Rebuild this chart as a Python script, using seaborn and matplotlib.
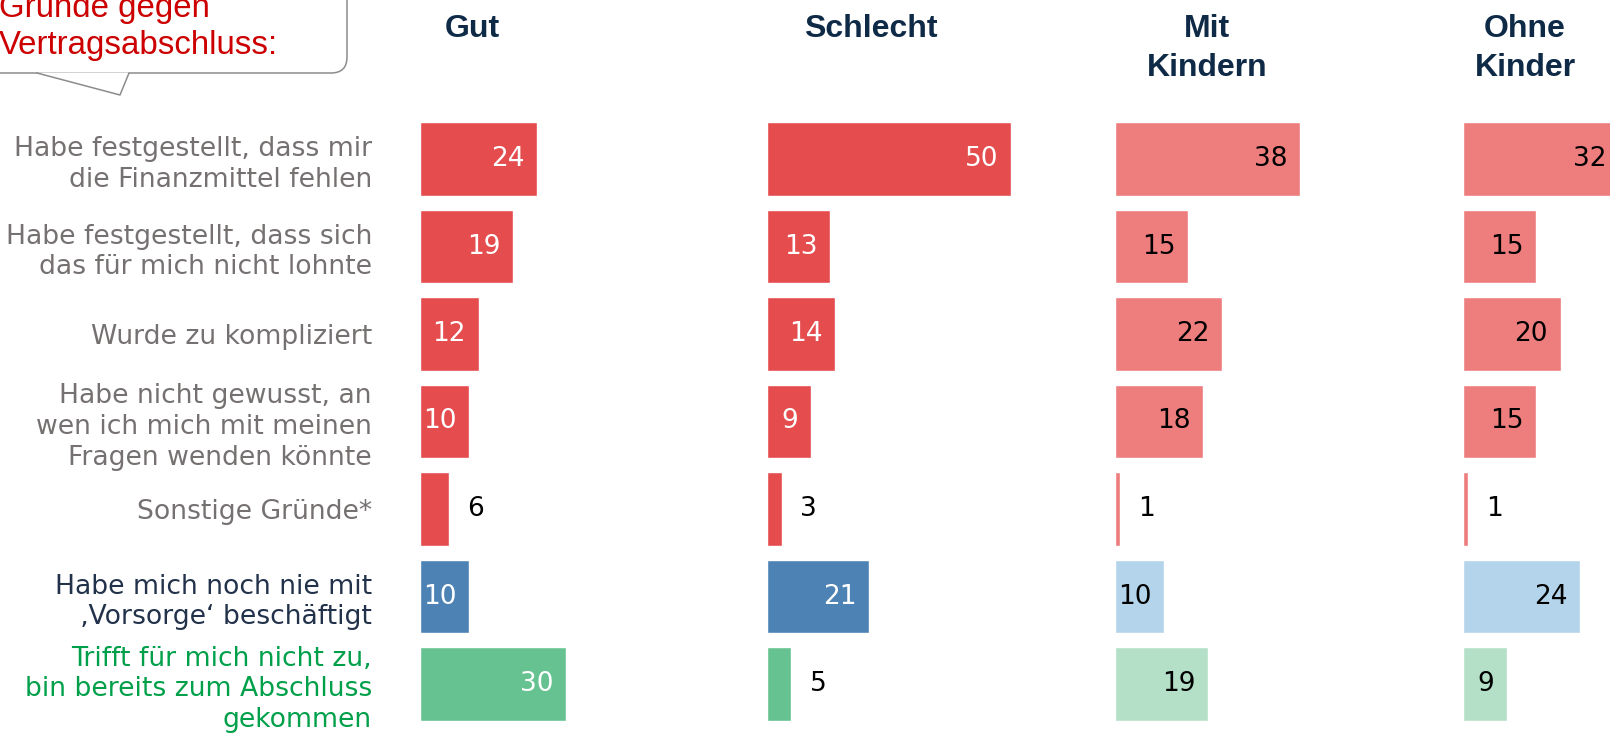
import numpy as np
import pandas as pd
import matplotlib
matplotlib.use("Agg")
import matplotlib.pyplot as plt
from matplotlib.patches import FancyBboxPatch, Polygon
import seaborn as sns

# data
categories = [
    "Habe festgestellt, dass mir\ndie Finanzmittel fehlen",
    "Habe festgestellt, dass sich\ndas für mich nicht lohnte",
    "Wurde zu kompliziert",
    "Habe nicht gewusst, an\nwen ich mich mit meinen\nFragen wenden könnte",
    "Sonstige Gründe*",
    "Habe mich noch nie mit\n‚Vorsorge‘ beschäftigt",
    "Trifft für mich nicht zu,\nbin bereits zum Abschluss\ngekommen",
]
groups = ["Gut", "Schlecht", "Mit\nKindern", "Ohne\nKinder"]
gut = [24, 19, 12, 10, 6, 10, 30]
schlecht = [50, 13, 14, 9, 3, 21, 5]
mit_kindern = [38, 15, 22, 18, 1, 10, 19]
ohne_kinder = [32, 15, 20, 15, 1, 24, 9]
series = [gut, schlecht, mit_kindern, ohne_kinder]

dark_cols = ["#E54C4E"] * 5 + ["#4D82B4", "#66C391"]
light_cols = ["#EE7D7D"] * 5 + ["#B4D4EC", "#B3E0C7"]
label_cols = ["#767171"] * 5 + ["#22324A", "#00A04A"]
header_col = "#0E2A47"

sns.set_theme(style="white")
plt.rcParams['font.family'] = ['DejaVu Sans']

W, H = 1610, 736
fig = plt.figure(figsize=(W / 100, H / 100), dpi=100)

# overlay for headers and callout (pixel coordinates)
ov = fig.add_axes([0, 0, 1, 1])
ov.set_xlim(0, W)
ov.set_ylim(H, 0)
ov.axis("off")

# callout box
box = FancyBboxPatch((-40, -40), 387, 113, boxstyle="round,pad=0,rounding_size=16",
                     facecolor="white", edgecolor="#8C8C8C", linewidth=1.1)
ov.add_patch(box)
ov.add_patch(Polygon([(37, 72.5), (120, 95), (129, 72.5)], closed=True,
                     facecolor="white", edgecolor="none", zorder=3))
ov.plot([37, 120, 129], [73, 95, 73], color="#8C8C8C", lw=1.1, zorder=4)
ov.text(-1, 17, "Gründe gegen", color="#CC0000", fontsize=23.8,
        family="Liberation Sans", ha="left", va="baseline", zorder=5)
ov.text(-1, 54, "Vertragsabschluss:", color="#CC0000", fontsize=23.8,
        family="Liberation Sans", ha="left", va="baseline", zorder=5)

header_x = [472, 871, 1207, 1525]
for hx, g in zip(header_x, groups):
    for k, line in enumerate(g.split("\n")):
        ov.text(hx, 37 + 39.5 * k, line, color=header_col, fontsize=23,
                fontweight="bold", family="Liberation Sans",
                ha="center", va="baseline")

# bar panels
lefts = [420, 767, 1115, 1463]
px_per_unit = 4.88
ax_w = 300
top_px, bot_px = 115.25, 727.75

for j, (vals, x0) in enumerate(zip(series, lefts)):
    ax = fig.add_axes([x0 / W, 1 - bot_px / H, ax_w / W, (bot_px - top_px) / H])
    ax.patch.set_alpha(0)
    cols = dark_cols if j < 2 else light_cols
    df = pd.DataFrame({"cat": categories, "val": vals})
    sns.barplot(data=df, x="val", y="cat", hue="cat", palette=cols, orient="h",
                width=0.84, saturation=1, legend=False, ax=ax)
    ax.set_xlim(0, ax_w / px_per_unit)
    ax.set_ylim(6.5, -0.5)
    ax.set_xlabel("")
    ax.set_ylabel("")
    ax.set_xticks([])
    for s in ax.spines.values():
        s.set_visible(False)
    inside_col = "white" if j < 2 else "black"
    for i, v in enumerate(vals):
        if v >= 9:
            ax.annotate(str(v), xy=(v, i), xytext=(-9, 0), textcoords="offset points",
                        ha="right", va="center", fontsize=19, color=inside_col)
        else:
            ax.annotate(str(v), xy=(v, i), xytext=(13, 0), textcoords="offset points",
                        ha="left", va="center", fontsize=19, color="black")
    if j == 0:
        ax.tick_params(axis="y", length=0, pad=34.6, labelsize=19.2)
        for t, c in zip(ax.get_yticklabels(), label_cols):
            t.set_color(c)
            t.set_linespacing(1.24)
            t.set_ha("right")
    else:
        ax.set_yticks([])

fig.savefig("out.png", dpi=100)
